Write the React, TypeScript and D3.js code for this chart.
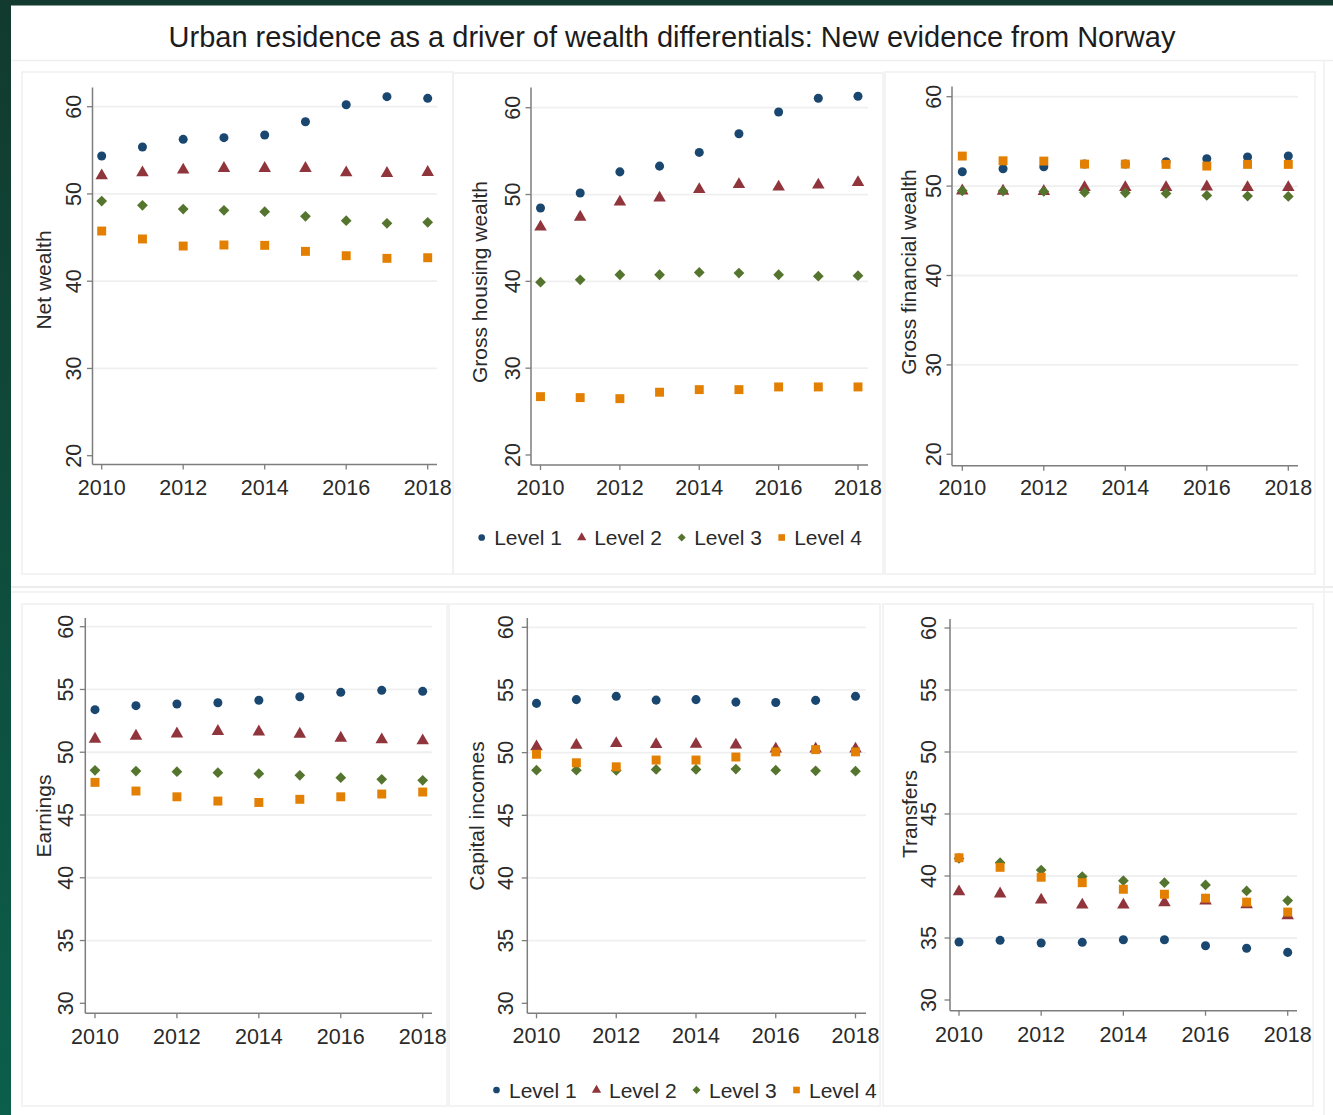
import React from "react";
import * as d3 from "d3";

// ---------- data ----------
const years = [2010, 2011, 2012, 2013, 2014, 2015, 2016, 2017, 2018];
const xTickValues = [2010, 2012, 2014, 2016, 2018];
const topYTicks = [20, 30, 40, 50, 60];
const bottomYTicks = [30, 35, 40, 45, 50, 55, 60];
const levelNames = ["Level 1", "Level 2", "Level 3", "Level 4"];
const levelColors = ["#1a476f", "#90353b", "#55752f", "#e38002"];

const netWealthL1 = [54.35, 55.38, 56.26, 56.45, 56.76, 58.28, 60.23, 61.15, 60.96];
const netWealthL2 = [52.09, 52.44, 52.75, 52.94, 52.94, 52.94, 52.44, 52.37, 52.48];
const netWealthL3 = [49.19, 48.7, 48.27, 48.12, 47.97, 47.44, 46.93, 46.64, 46.75];
const netWealthL4 = [45.75, 44.84, 44.03, 44.15, 44.11, 43.42, 42.92, 42.62, 42.69];

const housingL1 = [48.45, 50.18, 52.61, 53.27, 54.85, 57.0, 59.5, 61.09, 61.32];
const housingL2 = [46.26, 47.41, 49.15, 49.61, 50.58, 51.16, 50.88, 51.11, 51.39];
const housingL3 = [39.91, 40.18, 40.76, 40.76, 41.03, 40.95, 40.76, 40.6, 40.65];
const housingL4 = [26.72, 26.61, 26.49, 27.23, 27.53, 27.53, 27.84, 27.84, 27.84];

const financialL1 = [51.6, 51.94, 52.16, 52.46, 52.46, 52.72, 53.06, 53.25, 53.36];
const financialL2 = [49.47, 49.45, 49.42, 49.85, 49.85, 49.85, 49.92, 49.85, 49.85];
const financialL3 = [49.47, 49.44, 49.4, 49.29, 49.25, 49.18, 48.96, 48.88, 48.85];
const financialL4 = [53.36, 52.83, 52.8, 52.46, 52.46, 52.43, 52.24, 52.43, 52.43];

const earningsL1 = [53.39, 53.71, 53.84, 53.94, 54.14, 54.42, 54.77, 54.93, 54.85];
const earningsL2 = [51.05, 51.29, 51.47, 51.67, 51.63, 51.45, 51.13, 51.0, 50.92];
const earningsL3 = [48.56, 48.5, 48.45, 48.37, 48.29, 48.16, 47.97, 47.84, 47.76];
const earningsL4 = [47.6, 46.91, 46.45, 46.11, 46.0, 46.25, 46.45, 46.67, 46.83];

const capitalL1 = [53.93, 54.23, 54.49, 54.19, 54.23, 54.03, 54.0, 54.17, 54.49];
const capitalL2 = [50.48, 50.6, 50.73, 50.65, 50.68, 50.62, 50.3, 50.3, 50.3];
const capitalL3 = [48.6, 48.6, 48.58, 48.66, 48.66, 48.69, 48.6, 48.55, 48.52];
const capitalL4 = [49.87, 49.19, 48.87, 49.41, 49.41, 49.65, 50.06, 50.24, 50.06];

const transfersL1 = [34.68, 34.81, 34.6, 34.65, 34.86, 34.86, 34.38, 34.17, 33.84];
const transfersL2 = [38.74, 38.56, 38.07, 37.67, 37.67, 37.86, 38.0, 37.7, 36.8];
const transfersL3 = [41.42, 41.07, 40.48, 39.95, 39.62, 39.46, 39.28, 38.8, 38.02];
const transfersL4 = [41.47, 40.7, 39.9, 39.46, 38.93, 38.53, 38.21, 37.89, 37.09];

const title = "Urban residence as a driver of wealth differentials: New evidence from Norway";

// ---------- layout ----------
type Panel = {
  title: string;
  series: number[][];
  yTicks: number[];
  ax: number; x0: number; x1: number; xEnd: number;
  yTop: number; yBase: number;
  v0: number; p0: number; v1: number; p1: number;
  labelX: number; titleX: number; titleY: number; xLabelBase: number;
};

const panels: Panel[] = [
  { title: "Net wealth", series: [netWealthL1, netWealthL2, netWealthL3, netWealthL4], yTicks: topYTicks,
    ax: 92.5, x0: 101.7, x1: 427.7, xEnd: 437, yTop: 87.5, yBase: 464.5, v0: 20, p0: 455.7, v1: 60, p1: 106.7,
    labelX: 73.5, titleX: 43, titleY: 280, xLabelBase: 495 },
  { title: "Gross housing wealth", series: [housingL1, housingL2, housingL3, housingL4], yTicks: topYTicks,
    ax: 531, x0: 540.5, x1: 858, xEnd: 868, yTop: 87.5, yBase: 465, v0: 20, p0: 455, v1: 60, p1: 107.7,
    labelX: 512.5, titleX: 479, titleY: 282, xLabelBase: 495 },
  { title: "Gross financial wealth", series: [financialL1, financialL2, financialL3, financialL4], yTicks: topYTicks,
    ax: 952, x0: 962.3, x1: 1288.3, xEnd: 1298, yTop: 86.5, yBase: 465.7, v0: 20, p0: 454.3, v1: 60, p1: 96.7,
    labelX: 933.5, titleX: 908.5, titleY: 272, xLabelBase: 495 },
  { title: "Earnings", series: [earningsL1, earningsL2, earningsL3, earningsL4], yTicks: bottomYTicks,
    ax: 85.3, x0: 95, x1: 422.7, xEnd: 432, yTop: 618, yBase: 1013.3, v0: 30, p0: 1003.3, v1: 60, p1: 626.7,
    labelX: 65, titleX: 43.5, titleY: 816, xLabelBase: 1043.5 },
  { title: "Capital incomes", series: [capitalL1, capitalL2, capitalL3, capitalL4], yTicks: bottomYTicks,
    ax: 527.3, x0: 536.5, x1: 855.5, xEnd: 866, yTop: 618, yBase: 1013.3, v0: 30, p0: 1003.3, v1: 60, p1: 627.3,
    labelX: 505, titleX: 476.5, titleY: 816, xLabelBase: 1043.3 },
  { title: "Transfers", series: [transfersL1, transfersL2, transfersL3, transfersL4], yTicks: bottomYTicks,
    ax: 950, x0: 959, x1: 1287.7, xEnd: 1297, yTop: 619, yBase: 1010.7, v0: 30, p0: 1000, v1: 60, p1: 628,
    labelX: 928.7, titleX: 909, titleY: 814, xLabelBase: 1041.5 },
];

const boxes = [
  [22, 72, 453, 574], [453, 73, 883, 574], [885, 72, 1315, 574],
  [22, 604, 447, 1106], [449, 604, 880, 1106], [883, 604, 1313, 1106],
];

const FONT = "'Liberation Sans', Arial, Helvetica, sans-serif";
const TXT = "#2a2a2a";

const symbolTypes = [d3.symbolCircle, d3.symbolTriangle, d3.symbolSquare, d3.symbolSquare];
const symbolSizes = [64, 68, 58, 80];
const symbolRot = [0, 0, 45, 0];

function markerPath(i: number, scale = 1) {
  return d3.symbol().type(symbolTypes[i]).size(symbolSizes[i] * scale)()!;
}

function PanelView({ p }: { p: Panel }) {
  const x = d3.scaleLinear().domain([years[0], years[years.length - 1]]).range([p.x0, p.x1]);
  const y = d3.scaleLinear().domain([p.v0, p.v1]).range([p.p0, p.p1]);
  return (
    <g>
      {p.yTicks.slice(1).map((t) => (
        <line key={"g" + t} x1={p.ax + 1} x2={p.xEnd} y1={y(t)} y2={y(t)} stroke="#efefef" strokeWidth={1.8} />
      ))}
      <line x1={p.ax} x2={p.ax} y1={p.yTop} y2={p.yBase} stroke="#7d7d7d" strokeWidth={1.5} />
      <line x1={p.ax} x2={p.xEnd} y1={p.yBase} y2={p.yBase} stroke="#7d7d7d" strokeWidth={1.5} />
      {p.yTicks.map((t) => (
        <g key={"y" + t}>
          <line x1={p.ax - 5.5} x2={p.ax} y1={y(t)} y2={y(t)} stroke="#7d7d7d" strokeWidth={1.3} />
          <text transform={`translate(${p.labelX},${y(t)}) rotate(-90)`} textAnchor="middle" dy="0.36em"
            fontFamily={FONT} fontSize={21.5} fill={TXT}>{t}</text>
        </g>
      ))}
      {xTickValues.map((t) => (
        <g key={"x" + t}>
          <line x1={x(t)} x2={x(t)} y1={p.yBase} y2={p.yBase + 5} stroke="#7d7d7d" strokeWidth={1.3} />
          <text x={x(t)} y={p.xLabelBase} textAnchor="middle" fontFamily={FONT} fontSize={21.5} fill={TXT}>{t}</text>
        </g>
      ))}
      <text transform={`translate(${p.titleX},${p.titleY}) rotate(-90)`} textAnchor="middle" dy="0.36em"
        fontFamily={FONT} fontSize={21} fill={TXT}>{p.title}</text>
      {p.series.map((s, i) => (
        <g key={"s" + i} fill={levelColors[i]}>
          {s.map((v, j) => (
            <path key={j} d={markerPath(i)} transform={`translate(${x(years[j])},${y(v)}) rotate(${symbolRot[i]})`} />
          ))}
        </g>
      ))}
    </g>
  );
}

function Legend({ x0, cy, base }: { x0: number; cy: number; base: number }) {
  return (
    <g>
      {levelNames.map((name, i) => {
        const mx = x0 + i * 100;
        return (
          <g key={name}>
            <path d={markerPath(i, 0.55)} fill={levelColors[i]} transform={`translate(${mx},${cy}) rotate(${symbolRot[i]})`} />
            <text x={mx + 12.5} y={base} fontFamily={FONT} fontSize={21} fill={TXT}>{name}</text>
          </g>
        );
      })}
    </g>
  );
}

export default function App() {
  return (
    <div style={{ position: "absolute", left: 0, top: 0 }}>
      <svg width={1333} height={1115} style={{ display: "block" }}>
        <defs>
          <linearGradient id="edge" x1="0" y1="0" x2="0" y2="1">
            <stop offset="0" stopColor="#123a2e" />
            <stop offset="1" stopColor="#0b5f4b" />
          </linearGradient>
        </defs>
        <rect x={0} y={0} width={1333} height={1115} fill="#ffffff" />
        <rect x={0} y={0} width={11} height={1115} fill="url(#edge)" />
        <rect x={0} y={0} width={1333} height={5.5} fill="#123a2e" />
        <line x1={11} x2={1333} y1={60.5} y2={60.5} stroke="#efefef" strokeWidth={1.5} />
        <line x1={11} x2={1333} y1={587} y2={587} stroke="#e6e6e6" strokeWidth={1.5} />
        <line x1={11} x2={1333} y1={592} y2={592} stroke="#efefef" strokeWidth={1.5} />
        <line x1={1324} x2={1324} y1={61} y2={1115} stroke="#f1f1f1" strokeWidth={1.5} />
        {boxes.map((b, i) => (
          <rect key={i} x={b[0]} y={b[1]} width={b[2] - b[0]} height={b[3] - b[1]} fill="none" stroke="#f0f0f0" strokeWidth={1.5} />
        ))}
        <text x={672} y={47} textAnchor="middle" fontFamily={FONT} fontSize={29} fill="#1c1c1c">{title}</text>
        {panels.map((p) => <PanelView key={p.title} p={p} />)}
        <Legend x0={481.7} cy={537.5} base={545} />
        <Legend x0={496.5} cy={1090} base={1098.3} />
      </svg>
    </div>
  );
}
